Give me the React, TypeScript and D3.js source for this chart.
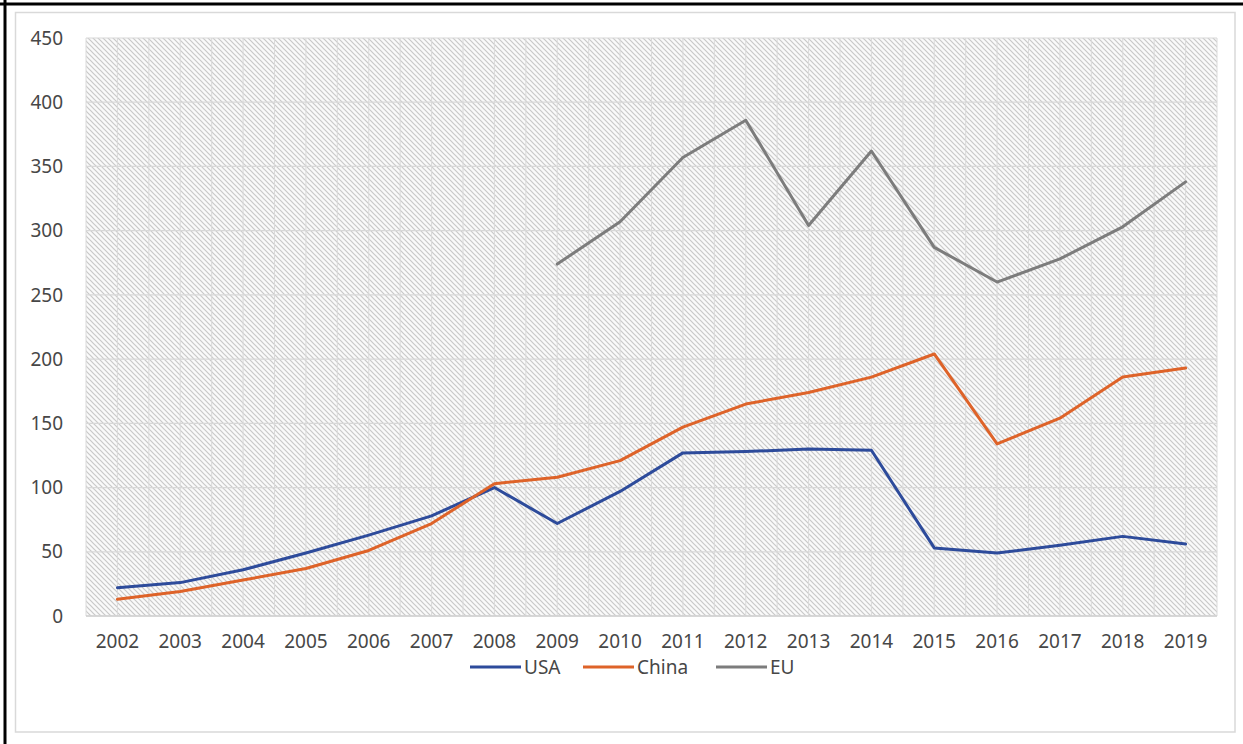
import React from "react";
import * as d3 from "d3";

const years = ["2002","2003","2004","2005","2006","2007","2008","2009","2010","2011","2012","2013","2014","2015","2016","2017","2018","2019"];
const usa: (number | null)[] = [22, 26, 36, 49, 63, 78, 100, 72, 97, 127, 128, 130, 129, 53, 49, 55, 62, 56];
const china: (number | null)[] = [13, 19, 28, 37, 51, 72, 103, 108, 121, 147, 165, 174, 186, 204, 134, 154, 186, 193];
const eu: (number | null)[] = [null, null, null, null, null, null, null, 274, 307, 357, 386, 304, 362, 287, 260, 278, 303, 338];
const yTicks = [0, 50, 100, 150, 200, 250, 300, 350, 400, 450];

const seriesList = [
  { name: "USA", values: usa, color: "#2d4b9b" },
  { name: "China", values: china, color: "#de6329" },
  { name: "EU", values: eu, color: "#7c7c7c" },
];

const W = 1243;
const H = 744;
const left = 86, right = 1217, top = 38, bottom = 616;
const FONT = "'Noto Sans', 'Open Sans', sans-serif";

export default function App() {
  const x = d3.scaleBand<string>().domain(years).range([left, right]).padding(0);
  const y = d3.scaleLinear().domain([0, 450]).range([bottom, top]);
  const cx = (yr: string) => (x(yr) as number) + x.bandwidth() / 2;

  const line = d3
    .line<number | null>()
    .defined((d) => d !== null)
    .x((_, i) => cx(years[i]))
    .y((d) => y(d as number));

  const vLines: number[] = [];
  years.forEach((yr) => {
    vLines.push(x(yr) as number);
    vLines.push(cx(yr));
  });
  vLines.push(right);

  const legendItems = [
    { x: 470, label: "USA", color: seriesList[0].color },
    { x: 583, label: "China", color: seriesList[1].color },
    { x: 716, label: "EU", color: seriesList[2].color },
  ];

  return (
    <div style={{ position: "absolute", left: 0, top: 0, width: W, height: H, background: "#fff" }}>
      <svg width={W} height={H} style={{ display: "block" }}>
        <defs>
          <pattern id="hatch" patternUnits="userSpaceOnUse" width={5} height={5}>
            <rect width={5} height={5} fill="#fafafa" />
            <path d="M0,0 L5,5 M-1,4 L1,6 M4,-1 L6,1" stroke="#c9c9c9" strokeWidth={1.2} />
          </pattern>
        </defs>
        <rect x={0} y={0} width={W} height={H} fill="#fff" />
        <line x1={5} y1={0} x2={5} y2={H} stroke="#000" strokeWidth={3} />
        <line x1={0} y1={4} x2={W} y2={4} stroke="#000" strokeWidth={3} />
        <rect x={15.5} y={12.5} width={1235 - 15.5} height={732 - 12.5} fill="none" stroke="#d9d9d9" strokeWidth={1.5} />

        <rect x={left} y={top} width={right - left} height={bottom - top} fill="url(#hatch)" />
        {vLines.map((vx, i) => (
          <line key={"v" + i} x1={vx} x2={vx} y1={top} y2={bottom} stroke="#dadada" strokeWidth={1} />
        ))}
        {yTicks.map((t) => (
          <line key={"h" + t} x1={left} x2={right} y1={y(t)} y2={y(t)} stroke="#d8d8d8" strokeWidth={1.2} />
        ))}
        <line x1={left} x2={right} y1={bottom} y2={bottom} stroke="#d0d0d0" strokeWidth={1.5} />

        {yTicks.map((t) => (
          <text key={"yl" + t} x={63} y={y(t)} dy="0.35em" textAnchor="end" fontFamily={FONT} fontSize={19} fill="#474747">
            {t}
          </text>
        ))}
        {years.map((yr) => (
          <text key={"xl" + yr} x={cx(yr)} y={641} dy="0.35em" textAnchor="middle" fontFamily={FONT} fontSize={19} fill="#474747">
            {yr}
          </text>
        ))}

        {seriesList.map((s) => (
          <path key={s.name} d={line(s.values) || ""} fill="none" stroke={s.color} strokeWidth={3} strokeLinejoin="round" strokeLinecap="round" />
        ))}

        {legendItems.map((l) => (
          <g key={l.label}>
            <line x1={l.x} x2={l.x + 51} y1={667} y2={667} stroke={l.color} strokeWidth={3} />
            <text x={l.x + 54} y={667} dy="0.35em" fontFamily={FONT} fontSize={19} fill="#474747">
              {l.label}
            </text>
          </g>
        ))}
      </svg>
    </div>
  );
}
